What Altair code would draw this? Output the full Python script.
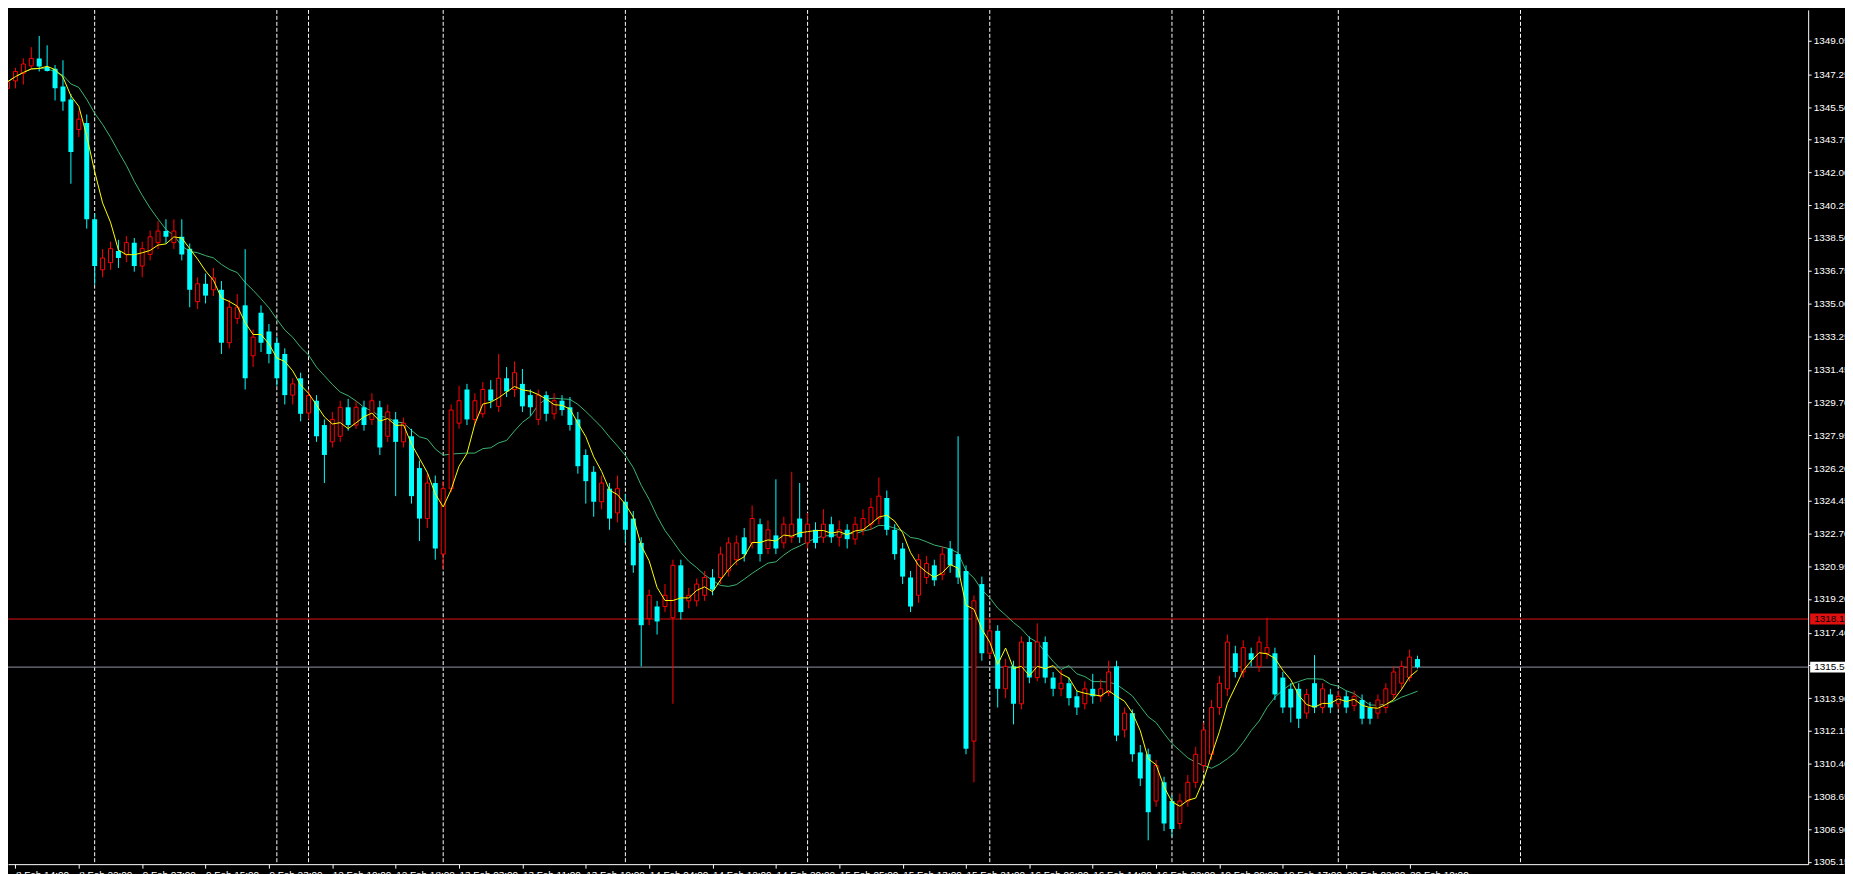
import altair as alt
import pandas as pd

# ---- data, one entry per hourly bar ----
OPEN = [1346.5, 1346.9, 1347.3, 1347.7, 1348.1, 1347.64, 1347.55, 1346.6, 1345.9, 1344.3,
        1344.65, 1339.5, 1336.8, 1337.18, 1337.8, 1337.62, 1338.25, 1337.0, 1337.62, 1338.25,
        1338.87, 1338.25, 1338.56, 1337.93, 1335.1, 1336.05, 1335.73, 1335.73, 1332.9, 1334.2,
        1334.9, 1332.2, 1334.5, 1333.5, 1332.9, 1332.3, 1330.1, 1331.0, 1329.14, 1329.8,
        1328.5, 1327.6, 1327.9, 1329.45, 1328.5, 1329.45, 1328.8, 1329.45, 1327.9, 1328.8,
        1327.6, 1327.9, 1326.2, 1323.5, 1325.4, 1321.6, 1325.1, 1328.6, 1330.4, 1328.8,
        1329.1, 1330.4, 1329.5, 1331.0, 1330.4, 1330.7, 1330.1, 1328.8, 1330.1, 1329.1,
        1329.8, 1329.45, 1328.8, 1326.9, 1326.0, 1324.4, 1325.1, 1323.8, 1324.4, 1323.5,
        1322.2, 1318.15, 1318.8, 1318.8, 1318.2, 1321.0, 1319.1, 1319.1, 1319.4, 1320.35,
        1320.35, 1320.7, 1321.3, 1322.5, 1322.2, 1323.2, 1321.9, 1322.6, 1322.2, 1322.5,
        1323.5, 1322.2, 1322.9, 1322.5, 1323.2, 1322.5, 1322.9, 1322.4, 1322.9, 1323.2,
        1323.5, 1324.6, 1322.9, 1321.9, 1320.35, 1319.4, 1320.35, 1321.0, 1320.5, 1321.9,
        1321.6, 1320.7, 1311.6, 1320.0, 1316.3, 1317.5, 1314.4, 1315.6, 1313.6, 1316.9,
        1315.0, 1316.9, 1315.0, 1314.4, 1314.7, 1314.0, 1313.6, 1314.4, 1314.0, 1314.2,
        1315.6, 1312.2, 1313.1, 1311.0, 1310.9, 1308.4, 1309.4, 1308.4, 1307.2, 1308.4,
        1309.4, 1310.3, 1310.9, 1313.4, 1314.4, 1316.3, 1315.3, 1316.3, 1315.6, 1316.3,
        1316.3, 1315.0, 1314.4, 1314.4, 1313.1, 1314.7, 1313.4, 1314.1, 1313.6, 1314.0,
        1313.5, 1313.8, 1313.4, 1313.1, 1313.4, 1314.1, 1314.7, 1315.0, 1315.99]
HIGH = [1347.9, 1347.6, 1348.1, 1348.7, 1349.3, 1348.8, 1347.75, 1348.0, 1346.2, 1345.3,
        1345.1, 1339.8, 1337.9, 1338.3, 1338.4, 1338.6, 1338.5, 1338.3, 1338.9, 1339.4,
        1339.5, 1339.5, 1339.5, 1338.2, 1336.4, 1336.6, 1336.9, 1336.2, 1335.2, 1335.5,
        1337.9, 1333.6, 1334.9, 1333.9, 1333.2, 1332.6, 1331.0, 1331.3, 1330.4, 1330.1,
        1328.8, 1329.2, 1329.8, 1329.9, 1329.8, 1329.8, 1330.2, 1329.8, 1329.6, 1329.2,
        1328.9, 1328.3, 1326.6, 1325.9, 1325.8, 1325.5, 1329.6, 1330.6, 1330.7, 1330.2,
        1330.8, 1330.9, 1332.3, 1331.6, 1331.9, 1331.5, 1330.4, 1330.4, 1330.3, 1330.2,
        1330.1, 1330.0, 1329.2, 1327.2, 1326.3, 1325.8, 1325.4, 1325.8, 1324.8, 1323.9,
        1322.5, 1319.7, 1319.1, 1320.0, 1321.3, 1321.3, 1319.8, 1320.3, 1320.7, 1320.8,
        1322.0, 1322.5, 1322.6, 1323.0, 1324.2, 1323.5, 1323.4, 1325.6, 1323.6, 1326.0,
        1325.4, 1323.8, 1323.3, 1324.0, 1323.6, 1323.4, 1323.2, 1323.6, 1324.0, 1324.6,
        1325.7, 1325.0, 1323.2, 1322.2, 1320.7, 1321.6, 1321.5, 1321.3, 1322.0, 1322.3,
        1327.9, 1321.0, 1319.4, 1320.4, 1318.1, 1317.8, 1316.0, 1315.9, 1317.2, 1317.2,
        1317.9, 1317.2, 1315.3, 1315.4, 1315.0, 1314.3, 1314.8, 1315.2, 1314.9, 1315.9,
        1315.9, 1313.4, 1313.3, 1311.4, 1311.2, 1310.6, 1309.7, 1308.7, 1308.8, 1309.8,
        1311.3, 1312.6, 1313.8, 1315.1, 1317.3, 1316.7, 1317.0, 1316.6, 1317.2, 1318.2,
        1316.6, 1315.3, 1314.7, 1314.7, 1314.4, 1316.2, 1314.7, 1314.4, 1314.3, 1314.3,
        1314.3, 1314.1, 1313.7, 1314.1, 1314.7, 1315.6, 1315.9, 1316.5, 1316.17]
LOW = [1344.8, 1346.5, 1346.7, 1347.5, 1347.4, 1347.4, 1345.85, 1345.3, 1341.4, 1343.9,
       1339.0, 1336.0, 1336.4, 1336.8, 1336.9, 1337.2, 1336.7, 1336.4, 1337.3, 1337.9,
       1338.2, 1337.9, 1337.3, 1334.8, 1334.7, 1335.0, 1335.4, 1332.3, 1332.6, 1333.9,
       1330.4, 1331.6, 1332.4, 1331.8, 1330.6, 1329.6, 1329.6, 1328.7, 1328.8, 1327.6,
       1325.4, 1327.3, 1327.6, 1328.2, 1328.3, 1328.2, 1328.5, 1326.9, 1327.6, 1324.7,
       1327.3, 1324.3, 1322.3, 1323.0, 1321.3, 1320.8, 1324.9, 1328.3, 1328.5, 1328.5,
       1328.9, 1329.4, 1329.2, 1330.0, 1330.0, 1329.2, 1329.0, 1328.5, 1328.7, 1328.8,
       1329.0, 1328.2, 1325.9, 1324.3, 1323.6, 1324.0, 1322.9, 1323.3, 1322.2, 1320.6,
       1315.6, 1317.8, 1317.3, 1318.5, 1313.6, 1318.1, 1318.7, 1318.8, 1319.1, 1319.4,
       1320.0, 1320.4, 1321.0, 1321.2, 1321.9, 1321.2, 1321.6, 1321.6, 1321.9, 1322.2,
       1322.2, 1321.9, 1321.9, 1322.2, 1322.2, 1322.0, 1321.9, 1322.1, 1322.6, 1322.9,
       1323.2, 1322.6, 1321.3, 1320.0, 1318.5, 1319.0, 1320.0, 1319.9, 1320.2, 1320.6,
       1320.0, 1310.9, 1309.4, 1315.9, 1316.0, 1313.4, 1313.9, 1312.5, 1313.3, 1314.7,
       1314.8, 1314.7, 1314.0, 1314.0, 1313.5, 1313.0, 1313.3, 1313.6, 1313.7, 1314.0,
       1311.6, 1311.8, 1310.5, 1309.2, 1306.3, 1308.1, 1306.8, 1306.5, 1306.9, 1308.1,
       1309.1, 1310.0, 1310.6, 1313.0, 1314.0, 1315.0, 1315.0, 1315.6, 1315.3, 1316.0,
       1313.8, 1313.1, 1312.6, 1312.3, 1312.8, 1313.1, 1313.1, 1313.1, 1313.3, 1313.1,
       1313.2, 1312.5, 1312.5, 1312.8, 1313.1, 1313.8, 1314.4, 1314.8, 1315.48]
CLOSE = [1346.85, 1347.4, 1347.8, 1348.1, 1347.66, 1347.43, 1346.5, 1345.8, 1343.1, 1344.85,
         1339.5, 1337.0, 1337.43, 1337.93, 1337.43, 1338.25, 1337.0, 1337.93, 1338.56, 1338.87,
         1338.56, 1338.87, 1337.62, 1335.73, 1336.05, 1335.42, 1336.36, 1332.9, 1334.8, 1334.8,
         1331.0, 1333.2, 1332.9, 1332.3, 1331.0, 1330.1, 1330.7, 1329.1, 1330.08, 1327.9,
         1326.9, 1328.8, 1329.45, 1328.5, 1329.45, 1328.5, 1329.8, 1327.3, 1329.2, 1327.6,
         1328.6, 1324.7, 1323.5, 1325.4, 1321.9, 1325.1, 1329.3, 1329.8, 1328.8, 1329.8,
         1330.4, 1329.8, 1331.0, 1330.3, 1331.3, 1329.5, 1329.45, 1330.1, 1329.1, 1329.8,
         1329.3, 1328.5, 1326.3, 1325.5, 1324.4, 1325.4, 1323.5, 1325.1, 1322.9, 1321.0,
         1317.8, 1319.4, 1318.0, 1319.4, 1321.0, 1318.5, 1319.4, 1320.0, 1320.35, 1319.7,
         1321.6, 1322.2, 1322.2, 1321.6, 1323.5, 1321.6, 1322.9, 1321.9, 1323.2, 1323.2,
         1322.5, 1323.2, 1322.2, 1323.2, 1322.5, 1322.9, 1322.4, 1323.2, 1323.5, 1324.1,
         1324.7, 1322.9, 1321.6, 1320.4, 1318.8, 1321.3, 1321.1, 1320.2, 1321.6, 1321.0,
         1320.35, 1311.2, 1319.1, 1316.3, 1317.5, 1314.4, 1315.6, 1313.6, 1316.9, 1315.0,
         1316.9, 1315.0, 1314.4, 1314.7, 1313.9, 1313.4, 1314.4, 1314.0, 1314.4, 1315.3,
         1311.9, 1313.1, 1310.9, 1309.6, 1307.8, 1310.3, 1307.2, 1306.9, 1308.4, 1309.4,
         1310.9, 1312.2, 1313.4, 1314.7, 1316.9, 1315.3, 1316.6, 1315.95, 1316.9, 1316.6,
         1314.1, 1313.4, 1313.4, 1312.8, 1314.1, 1313.4, 1314.4, 1313.4, 1314.0, 1313.4,
         1314.0, 1312.8, 1312.8, 1313.8, 1314.4, 1315.3, 1315.6, 1316.1, 1315.56]

SEPARATORS = [11, 34, 38, 55, 78, 101, 124, 147, 151, 168, 191]
TICK_BARS = list(range(1, 178, 8))
TICK_LABELS = ["8 Feb 14:00", "8 Feb 22:00", "9 Feb 07:00", "9 Feb 15:00", "9 Feb 23:00",
               "12 Feb 10:00", "12 Feb 18:00", "13 Feb 03:00", "13 Feb 11:00", "13 Feb 19:00",
               "14 Feb 04:00", "14 Feb 12:00", "14 Feb 20:00", "15 Feb 05:00", "15 Feb 13:00",
               "15 Feb 21:00", "16 Feb 06:00", "16 Feb 14:00", "16 Feb 22:00", "19 Feb 09:00",
               "19 Feb 17:00", "20 Feb 02:00", "20 Feb 10:00"]
PRICE_TICKS = [1349.05, 1347.25, 1345.50, 1343.75, 1342.00, 1340.25, 1338.50, 1336.75,
               1335.00, 1333.25, 1331.45, 1329.70, 1327.95, 1326.20, 1324.45, 1322.70,
               1320.95, 1319.20, 1317.40, 1315.65, 1313.90, 1312.15, 1310.40, 1308.65,
               1306.90, 1305.15]
HLINE_RED = 1318.13
BID = 1315.56

# ---- layout ----
W, H = 1808, 858
X_DOMAIN = [0.6875, 0.6875 + W / 8.0]
PX_PER_PRICE = 18.788
Y_TOP = 1350.80 - 2 / PX_PER_PRICE
Y_BOT = Y_TOP - H / PX_PER_PRICE
FONT = "Liberation Sans"

df = pd.DataFrame({"bar": list(range(len(CLOSE))), "open": OPEN, "high": HIGH,
                   "low": LOW, "close": CLOSE})
df["dir"] = ["up" if c >= o else "down" for o, c in zip(OPEN, CLOSE)]

xs = alt.Scale(domain=X_DOMAIN, nice=False, zero=False)
ys = alt.Scale(domain=[Y_BOT, Y_TOP], nice=False, zero=False)

label_expr = "[" + ",".join("'%s'" % s for s in TICK_LABELS) + "][round((datum.value-1)/8)]"

x_axis = alt.Axis(values=TICK_BARS, labelExpr=label_expr, orient="bottom", grid=False,
                  domainColor="white", tickColor="white", tickSize=4, labelColor="white",
                  labelFont=FONT, labelFontSize=10, labelAlign="left", labelPadding=1,
                  labelOverlap=False, labelFlush=False, labelBound=False, title=None, zindex=0)
y_axis = alt.Axis(values=PRICE_TICKS, format=".2f", orient="right", grid=False,
                  domainColor="white", tickColor="white", tickSize=3, labelColor="white",
                  labelFont=FONT, labelFontSize=10, labelPadding=2, labelOverlap=False,
                  labelFlush=False, labelBound=False, title=None, zindex=0)


def X(field):
    return alt.X(field, scale=xs, axis=x_axis)


def Y(field):
    return alt.Y(field, scale=ys, axis=y_axis)


base = alt.Chart(df)

sep = alt.Chart(pd.DataFrame({"bar": SEPARATORS})).mark_rule(
    color="white", strokeWidth=1, strokeDash=[4, 2], clip=True
).encode(x=X("bar:Q"))

hl = alt.Chart(pd.DataFrame({"p": [HLINE_RED, BID], "c": ["#e01010", "#8c96a0"]})).mark_rule(
    strokeWidth=1, clip=True
).encode(y=Y("p:Q"), color=alt.Color("c:N", scale=None))

color_dir = alt.Color("dir:N", scale=alt.Scale(domain=["up", "down"], range=["#ff0000", "#00ffff"]),
                      legend=None)

wick = base.mark_rule(strokeWidth=1, clip=True).encode(
    x=X("bar:Q"), y=Y("low:Q"), y2="high:Q", color=color_dir)

body_dn = base.transform_filter("datum.close < datum.open").mark_bar(
    width=5, color="#00ffff", clip=True
).encode(x=X("bar:Q"), y=Y("open:Q"), y2="close:Q")

body_up = base.transform_filter("datum.close >= datum.open").mark_bar(
    width=4, fill="black", stroke="#ff0000", strokeWidth=1, clip=True
).encode(x=X("bar:Q"), y=Y("open:Q"), y2="close:Q")

ma_fast = base.transform_window(
    ma="mean(close)", frame=[-4, 0], sort=[alt.SortField("bar")]
).mark_line(color="#ffff00", strokeWidth=1, clip=True).encode(x=X("bar:Q"), y=Y("ma:Q"))

ma_slow = base.transform_window(
    ma="mean(close)", frame=[-12, 0], sort=[alt.SortField("bar")]
).mark_line(color="#3cb371", strokeWidth=1, clip=True).encode(x=X("bar:Q"), y=Y("ma:Q"))

tags = alt.Chart(pd.DataFrame({"p": [HLINE_RED, BID], "t": ["1318.13", "1315.56"],
                               "c": ["#e01010", "white"]}))
tag_box = tags.mark_rule(strokeWidth=11).encode(
    x=alt.value(W + 2), x2=alt.value(W + 40), y=Y("p:Q"),
    color=alt.Color("c:N", scale=None))
tag_txt = tags.mark_text(align="left", baseline="middle", font=FONT, fontSize=10,
                         color="black").encode(
    x=alt.value(W + 6), y=Y("p:Q"), text="t:N")

chart = alt.layer(sep, hl, ma_slow, wick, body_up, body_dn, ma_fast, tag_box, tag_txt).properties(
    width=W, height=H,
    autosize=alt.AutoSizeParams(type="none"),
    padding={"left": 0, "top": 0, "right": 37, "bottom": 8},
    background="black",
).configure_view(strokeWidth=0)

chart.save("out.html", embed_options={"renderer": "svg", "actions": False})
